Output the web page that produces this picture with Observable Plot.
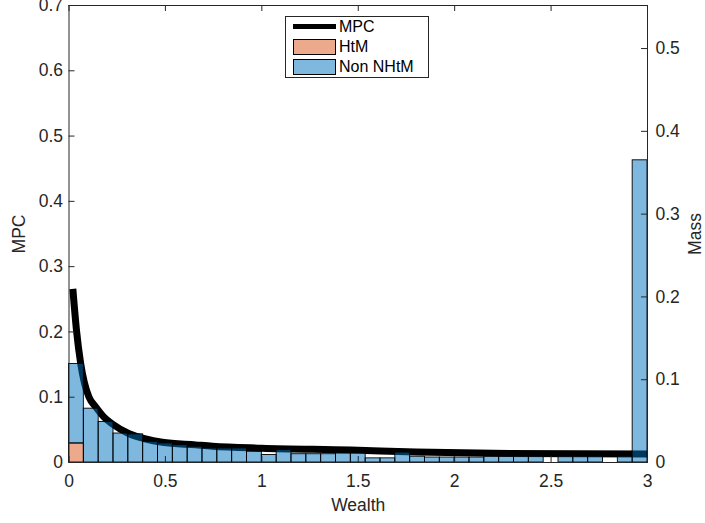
<!DOCTYPE html>
<html>
<head>
<meta charset="utf-8">
<script src="https://cdn.jsdelivr.net/npm/d3@7"></script>
<script src="https://cdn.jsdelivr.net/npm/@observablehq/plot@0.6"></script>
<style>
  html, body { margin: 0; padding: 0; background: #fff; }
  #wrap { position: relative; width: 705px; height: 523px; font-family: "Liberation Sans", Arial, sans-serif; }
  #legend { position: absolute; left: 285px; top: 16px; width: 144px; height: 62px; border: 1px solid #262626; background: #fff; box-sizing: border-box; font-size: 16px; color: #000; }
  .row { position: absolute; left: 0; height: 19px; }
  .sw { position: absolute; left: 7px; width: 43px; box-sizing: border-box; }
  .lab { position: absolute; left: 53px; white-space: nowrap; line-height: 19px; }
</style>
</head>
<body>
<div id="wrap"></div>
<script>
// ---- data ----
const xTicks = [0, 0.5, 1, 1.5, 2, 2.5, 3];
const mpcTicks = [0, 0.1, 0.2, 0.3, 0.4, 0.5, 0.6, 0.7];
const massTicks = [0, 0.1, 0.2, 0.3, 0.4, 0.5];
const mpcMax = 0.7;
const massMax = 0.552;
const wealthMax = 3;
const nBins = 39;

const mpcWealth = [0.02, 0.039, 0.061, 0.08, 0.104, 0.139, 0.18, 0.225, 0.312, 0.398, 0.484, 0.657, 0.744, 1.0, 1.46, 1.8, 2.2, 3.0];
const mpcValues = [0.266, 0.202, 0.151, 0.122, 0.1, 0.085, 0.07, 0.059, 0.044, 0.036, 0.031, 0.027, 0.025, 0.022, 0.019, 0.016, 0.014, 0.013];

const massNonHtM = [0.096, 0.065, 0.049, 0.035, 0.034, 0.025, 0.023, 0.021, 0.019, 0.017, 0.017, 0.017, 0.013, 0.009, 0.015, 0.010, 0.010, 0.010, 0.011, 0.011, 0.005, 0.005, 0.012, 0.007, 0.006, 0.006, 0.006, 0.006, 0.007, 0.007, 0.007, 0.007, 0.000, 0.007, 0.007, 0.007, 0.000, 0.007, 0.365];
const massHtM = [0.023, 0, 0, 0, 0, 0, 0, 0, 0, 0, 0, 0, 0, 0, 0, 0, 0, 0, 0, 0, 0, 0, 0, 0, 0, 0, 0, 0, 0, 0, 0, 0, 0, 0, 0, 0, 0, 0, 0];

const legendLabels = ["MPC", "HtM", "Non NHtM"];

// ---- derived tables ----
const ratio = mpcMax / massMax;
const binW = wealthMax / nBins;
const mpcData = mpcWealth.map((w, i) => ({w, m: mpcValues[i]}));
const htmRects = massHtM.map((h, i) => ({x1: i * binW, x2: (i + 1) * binW, y1: 0, y2: h * ratio}));
const nonRects = massNonHtM.map((n, i) => ({x1: i * binW, x2: (i + 1) * binW, y1: massHtM[i] * ratio, y2: (massHtM[i] + n) * ratio}));

const fmt = d => String(+d.toFixed(2));
const W = 705, H = 523, mL = 68.5, mR = 58, mT = 5, mB = 61;
const pw = W - mL - mR, ph = H - mT - mB;
const ink = "#262626";
const tickFont = 17.5;
const titleFont = 17.5;

const chart = Plot.plot({
  width: W, height: H,
  marginLeft: mL, marginRight: mR, marginTop: mT, marginBottom: mB,
  style: {fontFamily: "'Liberation Sans', Arial, sans-serif", color: ink, background: "#fff"},
  x: {domain: [0, wealthMax]},
  y: {domain: [0, mpcMax]},
  marks: [
    Plot.line(mpcData, {x: "w", y: "m", stroke: "#000", strokeWidth: 7, curve: "monotone-x", strokeLinecap: "butt"}),
    Plot.rect(htmRects, {x1: "x1", x2: "x2", y1: "y1", y2: "y2", fill: "#d95319", fillOpacity: 0.5, stroke: "#000", strokeWidth: 0.9}),
    Plot.rect(nonRects, {x1: "x1", x2: "x2", y1: "y1", y2: "y2", fill: "#0072bd", fillOpacity: 0.5, stroke: "#000", strokeWidth: 0.9}),
    // inward ticks
    Plot.tickX(xTicks, {x: d => d, stroke: ink, insetTop: ph - 6}),
    Plot.tickX(xTicks, {x: d => d, stroke: ink, insetBottom: ph - 6}),
    Plot.tickY(mpcTicks, {y: d => d, stroke: ink, insetRight: pw - 6}),
    Plot.tickY(massTicks.map(t => t * ratio), {y: d => d, stroke: ink, insetLeft: pw - 6}),
    Plot.frame({stroke: ink}),
    Plot.axisX(xTicks, {anchor: "bottom", tickSize: 0, tickPadding: 12, fontSize: tickFont, tickFormat: fmt, label: null}),
    Plot.axisY(mpcTicks, {anchor: "left", tickSize: 0, tickPadding: 6, fontSize: tickFont, tickFormat: fmt, label: null}),
    Plot.axisY(massTicks.map(t => t * ratio), {anchor: "right", tickSize: 0, tickPadding: 8, fontSize: tickFont, tickFormat: d => fmt(d / ratio), label: null}),
    Plot.text(["Wealth"], {frameAnchor: "bottom", dy: 43, lineAnchor: "middle", textAnchor: "middle", fontSize: titleFont, fill: ink}),
    Plot.text(["MPC"], {frameAnchor: "left", dx: -50, rotate: -90, lineAnchor: "middle", textAnchor: "middle", fontSize: titleFont, fill: ink}),
    Plot.text(["Mass"], {frameAnchor: "right", dx: 48, rotate: -90, lineAnchor: "middle", textAnchor: "middle", fontSize: titleFont, fill: ink})
  ]
});
const wrap = document.getElementById("wrap");
wrap.appendChild(chart);

// legend
const legend = document.createElement("div");
legend.id = "legend";
const swatches = [
  {type: "line"},
  {type: "patch", color: "rgba(217,83,25,0.5)"},
  {type: "patch", color: "rgba(0,114,189,0.5)"}
];
legendLabels.forEach((label, i) => {
  const e = swatches[i];
  const row = document.createElement("div");
  row.className = "row";
  row.style.top = (0 + i * 19.8) + "px";
  row.style.width = "100%";
  const sw = document.createElement("div");
  sw.className = "sw";
  if (e.type === "line") {
    sw.style.height = "5px"; sw.style.background = "#000"; sw.style.top = "7px";
  } else {
    sw.style.height = "16px"; sw.style.background = e.color; sw.style.border = "1px solid #000"; sw.style.top = "2px";
  }
  const lab = document.createElement("div");
  lab.className = "lab";
  lab.textContent = label;
  lab.style.top = "0px";
  row.appendChild(sw); row.appendChild(lab);
  legend.appendChild(row);
});
wrap.appendChild(legend);
</script>
</body>
</html>
